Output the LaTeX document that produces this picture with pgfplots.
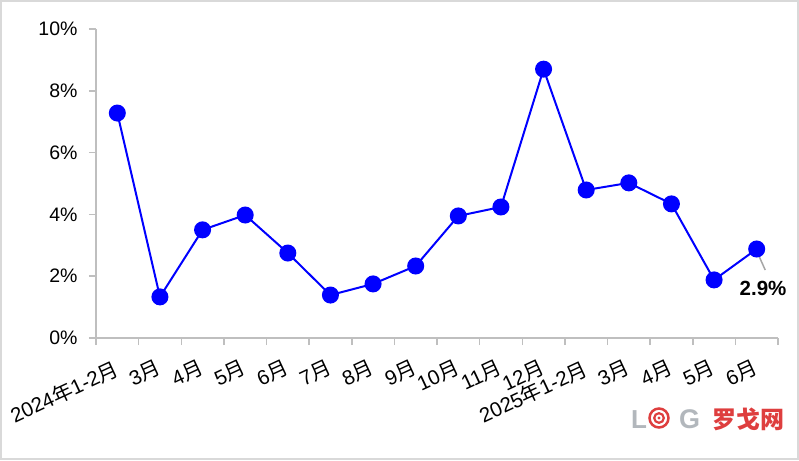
\documentclass[border=0pt]{standalone}
\usepackage{pgfplots}
\pgfplotsset{compat=1.18}
\usepackage{fontspec}
\setmainfont{Liberation Sans}
\newfontfamily\cjk{Noto Sans CJK SC}
\newcommand{\yue}{{\cjk 月}}
\newcommand{\nian}{{\cjk 年}}
\definecolor{axisgray}{RGB}{191,191,191}
\definecolor{framegray}{RGB}{217,217,217}
\definecolor{logored}{RGB}{222,62,62}
\definecolor{logogray}{RGB}{178,183,188}
\definecolor{leader}{RGB}{166,166,166}
\begin{document}
\begin{tikzpicture}[x=1pt,y=1pt]
\path[use as bounding box] (0,0) rectangle (799,460);
\draw[framegray, line width=2pt] (1,1) rectangle (798,459);
\begin{axis}[
  at={(96pt,122pt)}, anchor=south west,
  scale only axis, width=682pt, height=309pt,
  xmin=-0.5, xmax=15.5, ymin=0, ymax=10,
  axis x line=bottom, axis y line=left,
  axis line style={-, draw=axisgray, line width=1.5pt},
  tick style={draw=axisgray, line width=1.5pt},
  tick align=outside, major tick length=7pt,
  xtick={-0.5,0.5,...,15.5},
  xticklabels={2024\nian1-2\yue,3\yue,4\yue,5\yue,6\yue,7\yue,8\yue,9\yue,10\yue,11\yue,12\yue,2025\nian1-2\yue,3\yue,4\yue,5\yue,6\yue,{}},
  x tick label style={xshift=18.5pt, yshift=-9pt, rotate=25, anchor=north east, font=\fontsize{20.5}{23}\selectfont},
  ytick={0,2,...,10},
  yticklabel={\pgfmathprintnumber{\tick}\%},
  y tick label style={xshift=-8pt, font=\fontsize{19.5}{22}\selectfont},
  /pgf/number format/assume math mode=true,
  clip=false,
]
\draw[leader, line width=1.5pt] (axis cs:14.99,2.85) -- (axis cs:15.2,2.2);
\addplot[color={rgb,255:red,0;green,0;blue,255}, line width=2pt, mark=*, mark size=7.5pt,
  mark options={fill={rgb,255:red,0;green,0;blue,255}, draw={rgb,255:red,0;green,0;blue,255}}]
  coordinates {
  (0,7.28) (1,1.33) (2,3.50) (3,3.98) (4,2.75) (5,1.39) (6,1.75) (7,2.33)
  (8,3.95) (9,4.24) (10,8.70) (11,4.79) (12,5.02) (13,4.34) (14,1.88) (15,2.88)
  };
\node[font=\fontsize{20.5}{24}\selectfont\bfseries] at (axis cs:15.15,1.59) {2.9\%};
\end{axis}
% logo watermark
\node[anchor=base west, text=logogray, font=\fontsize{26}{28}\selectfont\bfseries, inner sep=0] at (631,32) {L};
\draw[logored, line width=2.5pt] (659,42) circle (9.5);
\draw[logored, line width=2.2pt] (659,42) circle (4.8);
\fill[logored] (659,42) circle (1.6);
\node[anchor=base west, text=logogray, font=\fontsize{27}{28}\selectfont\bfseries, inner sep=0] at (679,32) {G};
\node[anchor=base west, text=logored, inner sep=0, font={\cjk\fontsize{24}{28}\selectfont\bfseries}] at (712,32) {罗戈网};
\end{tikzpicture}
\end{document}
